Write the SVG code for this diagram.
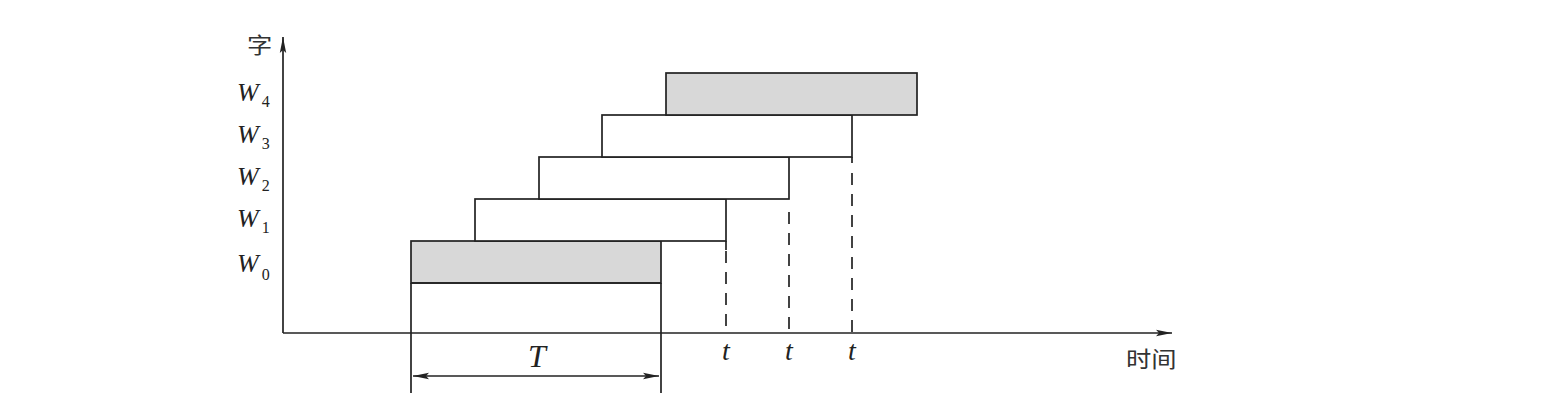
<svg xmlns="http://www.w3.org/2000/svg" width="1547" height="405" viewBox="0 0 1547 405">
<style>
.ln{stroke:#222;stroke-width:1.7;fill:none}
.bx{stroke:#222;stroke-width:1.7;fill:#fff}
.gy{stroke:#222;stroke-width:1.7;fill:#d8d8d8}
.dash{stroke:#222;stroke-width:1.7;fill:none;stroke-dasharray:12,9}
.it{font-family:"Liberation Serif",serif;font-style:italic;fill:#222}
.sub{font-style:normal;font-size:16px}
.cj{font-family:"Noto Sans CJK SC",sans-serif;fill:#333;font-size:22px}
</style>
<defs>
<marker id="ah" viewBox="0 0 16 8" refX="16" refY="4" markerWidth="16" markerHeight="8" markerUnits="userSpaceOnUse" orient="auto-start-reverse">
<path d="M0,0.8 L16,4 L0,7.2 L3,4 Z" fill="#222"/>
</marker>
</defs>
<rect width="1547" height="405" fill="#fff"/>
<g id="axes">
<line class="ln" x1="283" y1="333" x2="283" y2="37" marker-end="url(#ah)"/>
<line class="ln" x1="283" y1="333" x2="1172" y2="333" marker-end="url(#ah)"/>
<text class="cj" transform="translate(247,53) scale(1.15,1)">字</text>
<text class="cj" transform="translate(1126,367) scale(1.15,1)">时间</text>
</g>
<g id="labels">
<text class="it" x="237" y="101" font-size="26">W<tspan class="sub" dx="3" dy="6">4</tspan></text>
<text class="it" x="237" y="143" font-size="26">W<tspan class="sub" dx="3" dy="6">3</tspan></text>
<text class="it" x="237" y="185" font-size="26">W<tspan class="sub" dx="3" dy="6">2</tspan></text>
<text class="it" x="237" y="227" font-size="26">W<tspan class="sub" dx="3" dy="6">1</tspan></text>
<text class="it" x="237" y="272" font-size="26">W<tspan class="sub" dx="3" dy="8">0</tspan></text>
</g>
<g id="W0"><rect class="gy" x="411" y="241" width="250" height="42"/></g>
<g id="W1"><rect class="bx" x="475" y="199" width="251" height="42"/></g>
<g id="W2"><rect class="bx" x="539" y="157" width="250" height="42"/></g>
<g id="W3"><rect class="bx" x="602" y="115" width="250" height="42"/></g>
<g id="W4"><rect class="gy" x="666" y="73" width="251" height="42"/></g>
<g id="connectors">
<line class="ln" x1="411" y1="283" x2="411" y2="393"/>
<line class="ln" x1="661" y1="283" x2="661" y2="393"/>
<line class="ln" x1="411" y1="283" x2="661" y2="283"/>
<line class="ln" x1="413" y1="376" x2="659" y2="376" marker-start="url(#ah)" marker-end="url(#ah)"/>
<line class="ln" x1="726" y1="241" x2="726" y2="250"/>
<line class="dash" x1="726" y1="251" x2="726" y2="333"/>
<line class="ln" x1="852" y1="157" x2="852" y2="163"/>
<line class="dash" x1="789" y1="212" x2="789" y2="333"/>
<line class="dash" x1="852" y1="173" x2="852" y2="333"/>
</g>
<g id="ticks">
<text class="it" x="537" y="367" font-size="32" text-anchor="middle">T</text>
<text class="it" x="726" y="360" font-size="28" text-anchor="middle">t</text>
<text class="it" x="789" y="360" font-size="28" text-anchor="middle">t</text>
<text class="it" x="852" y="360" font-size="28" text-anchor="middle">t</text>
</g>
</svg>
